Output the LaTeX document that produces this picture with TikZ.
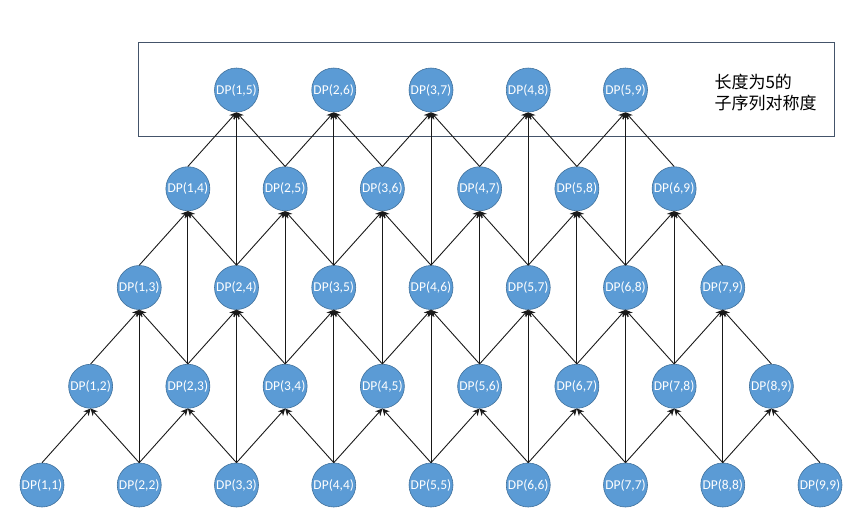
\documentclass[tikz,border=0pt]{standalone}
\usepackage{fontspec}
\setmainfont{Carlito}
\newfontfamily\cjk{Noto Sans CJK SC}
\usetikzlibrary{arrows.meta}
\definecolor{dpfill}{HTML}{5B9BD5}
\definecolor{dpline}{HTML}{41719C}
\definecolor{boxline}{HTML}{44546A}
\begin{document}
\begin{tikzpicture}[x=1pt,y=-1pt,
  dpnode/.style={circle,fill=dpfill,draw=dpline,line width=0.6pt,
    minimum size=44pt,inner sep=0pt,text=white,
    font=\fontsize{13.5}{15}\selectfont},
  edge/.style={line width=0.9pt,draw=black!90,
    -{Stealth[length=7pt,width=7pt]}},
  groupbox/.style={draw=boxline,line width=0.8pt}]
\useasboundingbox (0,0) rectangle (866,531);

% frame around the length-5 row
\draw[groupbox] (138,42) rectangle (834,136);
\node[anchor=west,align=left,font=\cjk\fontsize{17}{21}\selectfont]
  (lbl) at (711,93) {长度为5的\\子序列对称度};

% nodes DP(i,j), row k holds j = i + k
\foreach \k in {0,...,4}{
  \pgfmathtruncatemacro\last{9-\k}
  \foreach \i in {1,...,\last}{
    \pgfmathtruncatemacro\j{\i+\k}
    \node[dpnode] (n-\i-\j) at ({42+97.25*(\i-1)+48.625*\k},{485-98.75*\k}) {DP(\i,\j)};
  }
}

% dependencies: DP(i,j) <- DP(i,j-1), DP(i+1,j), DP(i+1,j-1)
\foreach \k in {1,...,4}{
  \pgfmathtruncatemacro\last{9-\k}
  \foreach \i in {1,...,\last}{
    \pgfmathtruncatemacro\j{\i+\k}
    \pgfmathtruncatemacro\jm{\j-1}
    \pgfmathtruncatemacro\ip{\i+1}
    \draw[edge] (n-\i-\jm.north) -- (n-\i-\j.south);
    \draw[edge] (n-\ip-\j.north) -- (n-\i-\j.south);
    \ifnum\k>1
      \draw[edge] (n-\ip-\jm.north) -- (n-\i-\j.south);
    \fi
  }
}
\end{tikzpicture}
\end{document}
